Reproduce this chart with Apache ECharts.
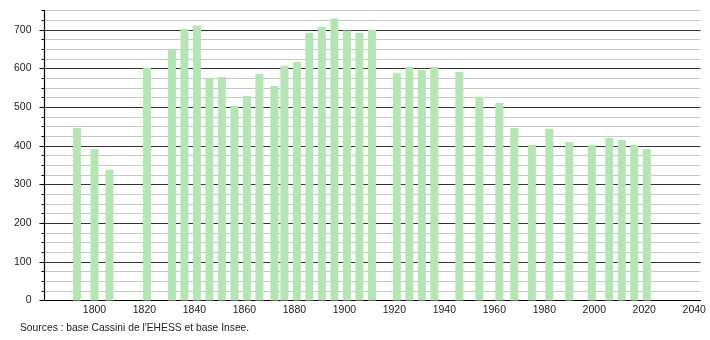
<!DOCTYPE html>
<html>
<head>
<meta charset="utf-8">
<script src="https://cdn.jsdelivr.net/npm/echarts@6/dist/echarts.min.js"></script>
<style>
html,body{margin:0;padding:0;background:#fff;}
#chart{width:710px;height:340px;}
</style>
</head>
<body>
<div id="chart"></div>
<script>
const years = [1793,1800,1806,1821,1831,1836,1841,1846,1851,1856,1861,1866,1872,1876,1881,1886,1891,1896,1901,1906,1911,1921,1926,1931,1936,1946,1954,1962,1968,1975,1982,1990,1999,2006,2011,2016,2021];
const population = [447,392,338,602,650,702,711,575,578,503,529,586,555,607,617,692,708,729,698,692,700,588,604,596,604,591,527,511,446,402,444,410,402,420,415,402,392];
const yTickLabels = [0,100,200,300,400,500,600,700];
const xTickLabels = [1800,1820,1840,1860,1880,1900,1920,1940,1960,1980,2000,2020,2040];
const sourceText = "Sources : base Cassini de l'EHESS et base Insee.";

const chart = echarts.init(document.getElementById('chart'), null, {renderer:'canvas'});
const font = 'Liberation Sans, Arial, sans-serif';
chart.setOption({
  animation:false,
  grid:{left:44.5, right:9.5, top:10.5, bottom:39.5, containLabel:false},
  xAxis:{
    type:'value', min:1780, max:2042.5, interval:20,
    axisLine:{show:true, lineStyle:{color:'#000', width:1.2}},
    axisTick:{show:false},
    splitLine:{show:false},
    axisLabel:{
      color:'#222', fontFamily:font, fontSize:10.5, margin:4,
      showMinLabel:false, showMaxLabel:false,
      formatter:function(v){ return xTickLabels.indexOf(v) >= 0 ? String(v) : ''; }
    }
  },
  yAxis:[{
    type:'value', min:0, max:750, interval:25,
    axisLine:{show:true, lineStyle:{color:'#000', width:1.2}},
    axisTick:{show:true, length:3, lineStyle:{color:'#000'}},
    splitLine:{show:true, lineStyle:{color:['#333','#c8c8c8','#c8c8c8','#c8c8c8'], width:1}},
    axisLabel:{show:false}
  },{
    type:'value', min:0, max:750, position:'left',
    axisLine:{show:false},
    splitLine:{show:false},
    axisTick:{show:true, length:5, customValues:yTickLabels, lineStyle:{color:'#000'}},
    axisLabel:{
      color:'#222', fontFamily:font, fontSize:10.5, margin:13,
      customValues:yTickLabels
    }
  }],
  series:[{
    type:'bar',
    data: years.map((y,i)=>[y, population[i]]),
    barWidth:8,
    itemStyle:{color:'#b3e6b3'},
    silent:true
  }],
  graphic:[{
    type:'text', left:20, top:323,
    style:{text:sourceText, fill:'#222', font:'10.3px '+font}
  }]
});
</script>
</body>
</html>
